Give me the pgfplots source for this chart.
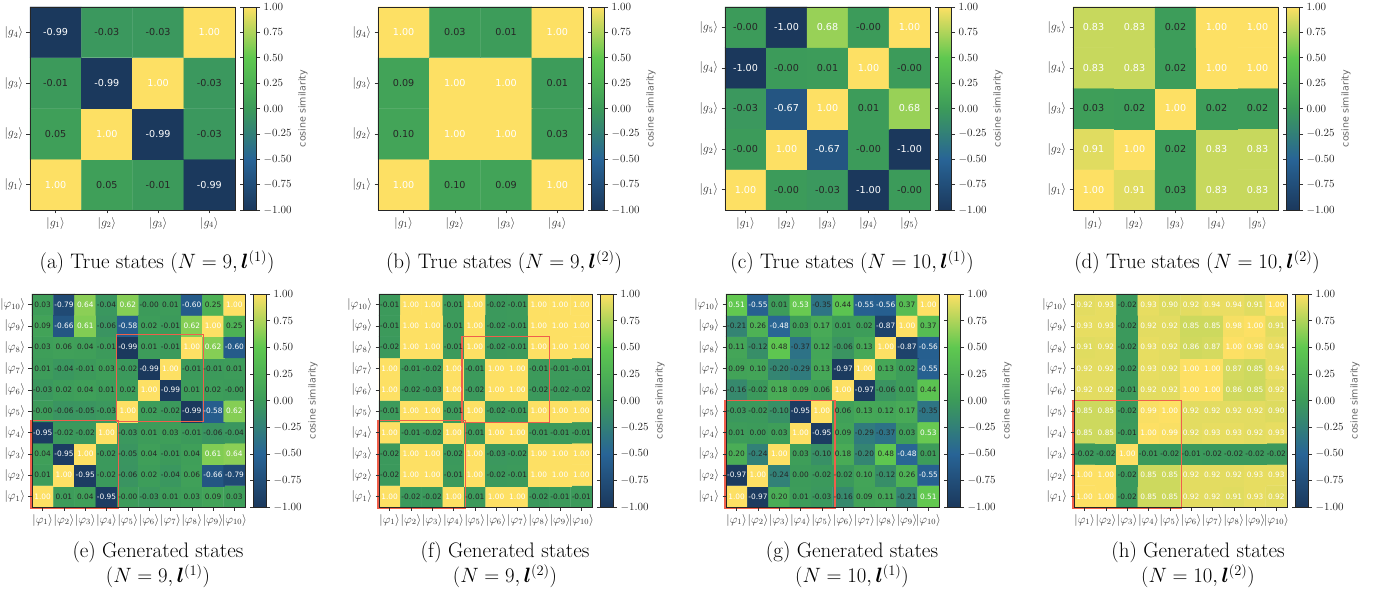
\documentclass[border=0pt]{standalone}
\usepackage{fontspec}
\usepackage{bm}
\usepackage{pgfplots}
\usepackage{pgfplotstable}
\pgfplotsset{compat=1.18}
\newfontfamily\dejavu{DejaVu Sans}
\definecolor{boxred}{RGB}{240,95,75}
\newcommand\topfont{\dejavu\fontsize{9.6}{11}\selectfont}
\newcommand\botfont{\dejavu\fontsize{7.4}{8}\selectfont}
\newcommand\phk[1]{$|\varphi_{#1}\rangle$}
\newcommand\gk[1]{$|g_{#1}\rangle$}
\newcommand\cellcol[1]{\ifdim#1pt>0.49pt\color{white}\else\ifdim#1pt<-0.45pt\color{white}\else\color{black!85}\fi\fi#1}
\tikzset{redbox/.style={draw=boxred, line width=1.2pt}}

\pgfplotsset{
  colormap={cs}{rgb255(0cm)=(27,56,92); rgb255(1cm)=(40,100,150); rgb255(2cm)=(60,155,90); rgb255(3cm)=(95,200,80); rgb255(4cm)=(253,224,100)},
  hm/.style={
    scale only axis, anchor=south west,
    enlargelimits=false, axis on top, clip=false,
    colormap name=cs, point meta min=-1, point meta max=1,
    tick align=outside, xtick pos=left, ytick pos=left,
    major tick length=3.5pt,
    tick style={black!80, line width=0.5pt},
    axis line style={black!85, line width=0.7pt},
    tick label style={text=black!80},
    colorbar,
    colorbar style={
      at={([xshift=12pt]parent axis.north east)}, anchor=north west,
      width=13pt,
      ytick={-1,-0.75,-0.5,-0.25,0,0.25,0.5,0.75,1},
      yticklabel style={font=\fontsize{10.5}{12}\selectfont, text=black!85, /pgf/number format/.cd, fixed, fixed zerofill, precision=2},
      ylabel={cosine similarity},
      ylabel style={font=\dejavu\fontsize{9.5}{11}\selectfont, text=black!60},
      major tick length=3.5pt, tick align=outside,
      tick style={black!80, line width=0.5pt},
      axis line style={black!85, line width=0.7pt},
    },
  },
  toprow/.style={hm, width=205pt, height=203pt, xmin=0.5, xmax=#1+0.5, ymin=0.5, ymax=#1+0.5,
    xtick={1,...,#1}, ytick={1,...,#1}, tick label style={font=\fontsize{12}{13}\selectfont}},
  botrow/.style={hm, width=213pt, height=213pt, xmin=0.5, xmax=10.5, ymin=0.5, ymax=10.5,
    xtick={1,...,10}, ytick={1,...,10}, tick label style={font=\fontsize{12}{13}\selectfont},
    xticklabel style={inner xsep=0pt},
    xticklabels={\phk{1},\phk{2},\phk{3},\phk{4},\phk{5},\phk{6},\phk{7},\phk{8},\phk{9},\phk{10}},
    yticklabels={\phk{1},\phk{2},\phk{3},\phk{4},\phk{5},\phk{6},\phk{7},\phk{8},\phk{9},\phk{10}}},
  toplabs/.style={draw=none, mark=none, point meta=explicit symbolic,
    nodes near coords={\cellcol{\pgfplotspointmeta}},
    every node near coord/.append style={anchor=center, inner sep=0pt, font=\topfont}},
  botlabs/.style={draw=none, mark=none, point meta=explicit symbolic,
    nodes near coords={\cellcol{\pgfplotspointmeta}},
    every node near coord/.append style={anchor=center, inner sep=0pt, font=\botfont}},
}

\pgfplotstableread[row sep=\\]{
x y v\\
1 1 1.00\\ 2 1 0.05\\ 3 1 -0.01\\ 4 1 -0.99\\
1 2 0.05\\ 2 2 1.00\\ 3 2 -0.99\\ 4 2 -0.03\\
1 3 -0.01\\ 2 3 -0.99\\ 3 3 1.00\\ 4 3 -0.03\\
1 4 -0.99\\ 2 4 -0.03\\ 3 4 -0.03\\ 4 4 1.00\\
}\tA

\pgfplotstableread[row sep=\\]{
x y v\\
1 1 1.00\\ 2 1 0.10\\ 3 1 0.09\\ 4 1 1.00\\
1 2 0.10\\ 2 2 1.00\\ 3 2 1.00\\ 4 2 0.03\\
1 3 0.09\\ 2 3 1.00\\ 3 3 1.00\\ 4 3 0.01\\
1 4 1.00\\ 2 4 0.03\\ 3 4 0.01\\ 4 4 1.00\\
}\tB

\pgfplotstableread[row sep=\\]{
x y v\\
1 1 1.00\\ 2 1 -0.00\\ 3 1 -0.03\\ 4 1 -1.00\\ 5 1 -0.00\\
1 2 -0.00\\ 2 2 1.00\\ 3 2 -0.67\\ 4 2 -0.00\\ 5 2 -1.00\\
1 3 -0.03\\ 2 3 -0.67\\ 3 3 1.00\\ 4 3 0.01\\ 5 3 0.68\\
1 4 -1.00\\ 2 4 -0.00\\ 3 4 0.01\\ 4 4 1.00\\ 5 4 -0.00\\
1 5 -0.00\\ 2 5 -1.00\\ 3 5 0.68\\ 4 5 -0.00\\ 5 5 1.00\\
}\tC

\pgfplotstableread[row sep=\\]{
x y v\\
1 1 1.00\\ 2 1 0.91\\ 3 1 0.03\\ 4 1 0.83\\ 5 1 0.83\\
1 2 0.91\\ 2 2 1.00\\ 3 2 0.02\\ 4 2 0.83\\ 5 2 0.83\\
1 3 0.03\\ 2 3 0.02\\ 3 3 1.00\\ 4 3 0.02\\ 5 3 0.02\\
1 4 0.83\\ 2 4 0.83\\ 3 4 0.02\\ 4 4 1.00\\ 5 4 1.00\\
1 5 0.83\\ 2 5 0.83\\ 3 5 0.02\\ 4 5 1.00\\ 5 5 1.00\\
}\tD

\pgfplotstableread[row sep=\\]{
x y v\\
1 1 1.00\\ 2 1 0.01\\ 3 1 0.04\\ 4 1 -0.95\\ 5 1 -0.00\\ 6 1 -0.03\\ 7 1 0.01\\ 8 1 0.03\\ 9 1 0.09\\ 10 1 0.03\\
1 2 0.01\\ 2 2 1.00\\ 3 2 -0.95\\ 4 2 -0.02\\ 5 2 -0.06\\ 6 2 0.02\\ 7 2 -0.04\\ 8 2 0.06\\ 9 2 -0.66\\ 10 2 -0.79\\
1 3 0.04\\ 2 3 -0.95\\ 3 3 1.00\\ 4 3 -0.02\\ 5 3 -0.05\\ 6 3 0.04\\ 7 3 -0.01\\ 8 3 0.04\\ 9 3 0.61\\ 10 3 0.64\\
1 4 -0.95\\ 2 4 -0.02\\ 3 4 -0.02\\ 4 4 1.00\\ 5 4 -0.03\\ 6 4 0.01\\ 7 4 0.03\\ 8 4 -0.01\\ 9 4 -0.06\\ 10 4 -0.04\\
1 5 -0.00\\ 2 5 -0.06\\ 3 5 -0.05\\ 4 5 -0.03\\ 5 5 1.00\\ 6 5 0.02\\ 7 5 -0.02\\ 8 5 -0.99\\ 9 5 -0.58\\ 10 5 0.62\\
1 6 -0.03\\ 2 6 0.02\\ 3 6 0.04\\ 4 6 0.01\\ 5 6 0.02\\ 6 6 1.00\\ 7 6 -0.99\\ 8 6 0.01\\ 9 6 0.02\\ 10 6 -0.00\\
1 7 0.01\\ 2 7 -0.04\\ 3 7 -0.01\\ 4 7 0.03\\ 5 7 -0.02\\ 6 7 -0.99\\ 7 7 1.00\\ 8 7 -0.01\\ 9 7 -0.01\\ 10 7 0.01\\
1 8 0.03\\ 2 8 0.06\\ 3 8 0.04\\ 4 8 -0.01\\ 5 8 -0.99\\ 6 8 0.01\\ 7 8 -0.01\\ 8 8 1.00\\ 9 8 0.62\\ 10 8 -0.60\\
1 9 0.09\\ 2 9 -0.66\\ 3 9 0.61\\ 4 9 -0.06\\ 5 9 -0.58\\ 6 9 0.02\\ 7 9 -0.01\\ 8 9 0.62\\ 9 9 1.00\\ 10 9 0.25\\
1 10 0.03\\ 2 10 -0.79\\ 3 10 0.64\\ 4 10 -0.04\\ 5 10 0.62\\ 6 10 -0.00\\ 7 10 0.01\\ 8 10 -0.60\\ 9 10 0.25\\ 10 10 1.00\\
}\tE

\pgfplotstableread[row sep=\\]{
x y v\\
1 1 1.00\\ 2 1 -0.02\\ 3 1 -0.02\\ 4 1 1.00\\ 5 1 -0.01\\ 6 1 1.00\\ 7 1 1.00\\ 8 1 -0.02\\ 9 1 -0.01\\ 10 1 -0.01\\
1 2 -0.02\\ 2 2 1.00\\ 3 2 1.00\\ 4 2 -0.01\\ 5 2 1.00\\ 6 2 -0.02\\ 7 2 -0.01\\ 8 2 1.00\\ 9 2 1.00\\ 10 2 1.00\\
1 3 -0.02\\ 2 3 1.00\\ 3 3 1.00\\ 4 3 -0.02\\ 5 3 1.00\\ 6 3 -0.03\\ 7 3 -0.02\\ 8 3 1.00\\ 9 3 1.00\\ 10 3 1.00\\
1 4 1.00\\ 2 4 -0.01\\ 3 4 -0.02\\ 4 4 1.00\\ 5 4 -0.01\\ 6 4 1.00\\ 7 4 1.00\\ 8 4 -0.01\\ 9 4 -0.01\\ 10 4 -0.01\\
1 5 -0.01\\ 2 5 1.00\\ 3 5 1.00\\ 4 5 -0.01\\ 5 5 1.00\\ 6 5 -0.02\\ 7 5 -0.01\\ 8 5 1.00\\ 9 5 1.00\\ 10 5 1.00\\
1 6 1.00\\ 2 6 -0.02\\ 3 6 -0.03\\ 4 6 1.00\\ 5 6 -0.02\\ 6 6 1.00\\ 7 6 1.00\\ 8 6 -0.02\\ 9 6 -0.02\\ 10 6 -0.02\\
1 7 1.00\\ 2 7 -0.01\\ 3 7 -0.02\\ 4 7 1.00\\ 5 7 -0.01\\ 6 7 1.00\\ 7 7 1.00\\ 8 7 -0.01\\ 9 7 -0.01\\ 10 7 -0.01\\
1 8 -0.02\\ 2 8 1.00\\ 3 8 1.00\\ 4 8 -0.01\\ 5 8 1.00\\ 6 8 -0.02\\ 7 8 -0.01\\ 8 8 1.00\\ 9 8 1.00\\ 10 8 1.00\\
1 9 -0.01\\ 2 9 1.00\\ 3 9 1.00\\ 4 9 -0.01\\ 5 9 1.00\\ 6 9 -0.02\\ 7 9 -0.01\\ 8 9 1.00\\ 9 9 1.00\\ 10 9 1.00\\
1 10 -0.01\\ 2 10 1.00\\ 3 10 1.00\\ 4 10 -0.01\\ 5 10 1.00\\ 6 10 -0.02\\ 7 10 -0.01\\ 8 10 1.00\\ 9 10 1.00\\ 10 10 1.00\\
}\tF

\pgfplotstableread[row sep=\\]{
x y v\\
1 1 1.00\\ 2 1 -0.97\\ 3 1 0.20\\ 4 1 0.01\\ 5 1 -0.03\\ 6 1 -0.16\\ 7 1 0.09\\ 8 1 0.11\\ 9 1 -0.21\\ 10 1 0.51\\
1 2 -0.97\\ 2 2 1.00\\ 3 2 -0.24\\ 4 2 0.00\\ 5 2 -0.02\\ 6 2 -0.02\\ 7 2 0.10\\ 8 2 -0.12\\ 9 2 0.26\\ 10 2 -0.55\\
1 3 0.20\\ 2 3 -0.24\\ 3 3 1.00\\ 4 3 0.03\\ 5 3 -0.10\\ 6 3 0.18\\ 7 3 -0.20\\ 8 3 0.48\\ 9 3 -0.48\\ 10 3 0.01\\
1 4 0.01\\ 2 4 0.00\\ 3 4 0.03\\ 4 4 1.00\\ 5 4 -0.95\\ 6 4 0.09\\ 7 4 -0.29\\ 8 4 -0.37\\ 9 4 0.03\\ 10 4 0.53\\
1 5 -0.03\\ 2 5 -0.02\\ 3 5 -0.10\\ 4 5 -0.95\\ 5 5 1.00\\ 6 5 0.06\\ 7 5 0.13\\ 8 5 0.12\\ 9 5 0.17\\ 10 5 -0.35\\
1 6 -0.16\\ 2 6 -0.02\\ 3 6 0.18\\ 4 6 0.09\\ 5 6 0.06\\ 6 6 1.00\\ 7 6 -0.97\\ 8 6 -0.06\\ 9 6 0.01\\ 10 6 0.44\\
1 7 0.09\\ 2 7 0.10\\ 3 7 -0.20\\ 4 7 -0.29\\ 5 7 0.13\\ 6 7 -0.97\\ 7 7 1.00\\ 8 7 0.13\\ 9 7 0.02\\ 10 7 -0.55\\
1 8 0.11\\ 2 8 -0.12\\ 3 8 0.48\\ 4 8 -0.37\\ 5 8 0.12\\ 6 8 -0.06\\ 7 8 0.13\\ 8 8 1.00\\ 9 8 -0.87\\ 10 8 -0.56\\
1 9 -0.21\\ 2 9 0.26\\ 3 9 -0.48\\ 4 9 0.03\\ 5 9 0.17\\ 6 9 0.01\\ 7 9 0.02\\ 8 9 -0.87\\ 9 9 1.00\\ 10 9 0.37\\
1 10 0.51\\ 2 10 -0.55\\ 3 10 0.01\\ 4 10 0.53\\ 5 10 -0.35\\ 6 10 0.44\\ 7 10 -0.55\\ 8 10 -0.56\\ 9 10 0.37\\ 10 10 1.00\\
}\tG

\pgfplotstableread[row sep=\\]{
x y v\\
1 1 1.00\\ 2 1 1.00\\ 3 1 -0.02\\ 4 1 0.85\\ 5 1 0.85\\ 6 1 0.92\\ 7 1 0.92\\ 8 1 0.91\\ 9 1 0.93\\ 10 1 0.92\\
1 2 1.00\\ 2 2 1.00\\ 3 2 -0.02\\ 4 2 0.85\\ 5 2 0.85\\ 6 2 0.92\\ 7 2 0.92\\ 8 2 0.92\\ 9 2 0.93\\ 10 2 0.93\\
1 3 -0.02\\ 2 3 -0.02\\ 3 3 1.00\\ 4 3 -0.01\\ 5 3 -0.02\\ 6 3 -0.01\\ 7 3 -0.02\\ 8 3 -0.02\\ 9 3 -0.02\\ 10 3 -0.02\\
1 4 0.85\\ 2 4 0.85\\ 3 4 -0.01\\ 4 4 1.00\\ 5 4 0.99\\ 6 4 0.92\\ 7 4 0.93\\ 8 4 0.93\\ 9 4 0.92\\ 10 4 0.93\\
1 5 0.85\\ 2 5 0.85\\ 3 5 -0.02\\ 4 5 0.99\\ 5 5 1.00\\ 6 5 0.92\\ 7 5 0.92\\ 8 5 0.92\\ 9 5 0.92\\ 10 5 0.90\\
1 6 0.92\\ 2 6 0.92\\ 3 6 -0.01\\ 4 6 0.92\\ 5 6 0.92\\ 6 6 1.00\\ 7 6 1.00\\ 8 6 0.86\\ 9 6 0.85\\ 10 6 0.92\\
1 7 0.92\\ 2 7 0.92\\ 3 7 -0.02\\ 4 7 0.93\\ 5 7 0.92\\ 6 7 1.00\\ 7 7 1.00\\ 8 7 0.87\\ 9 7 0.85\\ 10 7 0.94\\
1 8 0.91\\ 2 8 0.92\\ 3 8 -0.02\\ 4 8 0.93\\ 5 8 0.92\\ 6 8 0.86\\ 7 8 0.87\\ 8 8 1.00\\ 9 8 0.98\\ 10 8 0.94\\
1 9 0.93\\ 2 9 0.93\\ 3 9 -0.02\\ 4 9 0.92\\ 5 9 0.92\\ 6 9 0.85\\ 7 9 0.85\\ 8 9 0.98\\ 9 9 1.00\\ 10 9 0.91\\
1 10 0.92\\ 2 10 0.93\\ 3 10 -0.02\\ 4 10 0.93\\ 5 10 0.90\\ 6 10 0.92\\ 7 10 0.94\\ 8 10 0.94\\ 9 10 0.91\\ 10 10 1.00\\
}\tH

\begin{document}
\begin{tikzpicture}
\path[use as bounding box] (0pt,0pt) rectangle (1396pt,600pt);

% ---------- top row ----------
\begin{axis}[toprow=4, at={(30pt,390pt)},
  xticklabels={\gk1,\gk2,\gk3,\gk4}, yticklabels={\gk1,\gk2,\gk3,\gk4}]
\addplot[matrix plot*, mesh/cols=4, point meta=explicit] table[x=x,y=y,meta=v] {\tA};
\addplot[toplabs] table[x=x,y=y,meta=v] {\tA};
\end{axis}

\begin{axis}[toprow=4, at={(378pt,390pt)},
  xticklabels={\gk1,\gk2,\gk3,\gk4}, yticklabels={\gk1,\gk2,\gk3,\gk4}]
\addplot[matrix plot*, mesh/cols=4, point meta=explicit] table[x=x,y=y,meta=v] {\tB};
\addplot[toplabs] table[x=x,y=y,meta=v] {\tB};
\end{axis}

\begin{axis}[toprow=5, at={(725pt,390pt)},
  xticklabels={\gk1,\gk2,\gk3,\gk4,\gk5}, yticklabels={\gk1,\gk2,\gk3,\gk4,\gk5}]
\addplot[matrix plot*, mesh/cols=5, point meta=explicit] table[x=x,y=y,meta=v] {\tC};
\addplot[toplabs] table[x=x,y=y,meta=v] {\tC};
\end{axis}

\begin{axis}[toprow=5, at={(1073pt,390pt)},
  xticklabels={\gk1,\gk2,\gk3,\gk4,\gk5}, yticklabels={\gk1,\gk2,\gk3,\gk4,\gk5}]
\addplot[matrix plot*, mesh/cols=5, point meta=explicit] table[x=x,y=y,meta=v] {\tD};
\addplot[toplabs] table[x=x,y=y,meta=v] {\tD};
\end{axis}

% ---------- bottom row ----------
\begin{axis}[botrow, at={(32pt,93pt)}]
\addplot[matrix plot*, mesh/cols=10, point meta=explicit] table[x=x,y=y,meta=v] {\tE};
\addplot[botlabs] table[x=x,y=y,meta=v] {\tE};
\draw[redbox] (axis cs:0.45,0.45) rectangle (axis cs:4.55,4.55);
\draw[redbox] (axis cs:4.45,4.5) rectangle (axis cs:8.55,8.6);
\end{axis}

\begin{axis}[botrow, at={(379pt,93pt)}]
\addplot[matrix plot*, mesh/cols=10, point meta=explicit] table[x=x,y=y,meta=v] {\tF};
\addplot[botlabs] table[x=x,y=y,meta=v] {\tF};
\draw[redbox] (axis cs:0.45,0.45) rectangle (axis cs:4.55,4.55);
\draw[redbox] (axis cs:4.4,4.45) rectangle (axis cs:8.5,8.5);
\end{axis}

\begin{axis}[botrow, at={(726pt,93pt)}]
\addplot[matrix plot*, mesh/cols=10, point meta=explicit] table[x=x,y=y,meta=v] {\tG};
\addplot[botlabs] table[x=x,y=y,meta=v] {\tG};
\draw[redbox] (axis cs:0.45,0.45) rectangle (axis cs:5.62,5.5);
\end{axis}

\begin{axis}[botrow, at={(1074pt,93pt)}]
\addplot[matrix plot*, mesh/cols=10, point meta=explicit] table[x=x,y=y,meta=v] {\tH};
\addplot[botlabs] table[x=x,y=y,meta=v] {\tH};
\draw[redbox] (axis cs:0.45,0.45) rectangle (axis cs:5.55,5.5);
\end{axis}

% ---------- captions ----------
\begin{scope}[every node/.style={font=\fontsize{21}{25}\selectfont, align=center}]
\node at (157pt,338pt) {(a) True states $(N=9,\bm{l}^{(1)})$};
\node at (504pt,338pt) {(b) True states $(N=9,\bm{l}^{(2)})$};
\node at (852pt,338pt) {(c) True states $(N=10,\bm{l}^{(1)})$};
\node at (1197pt,338pt) {(d) True states $(N=10,\bm{l}^{(2)})$};
\node at (158pt,35pt) {(e) Generated states\\$(N=9,\bm{l}^{(1)})$};
\node at (505pt,35pt) {(f) Generated states\\$(N=9,\bm{l}^{(2)})$};
\node at (852pt,35pt) {(g) Generated states\\$(N=10,\bm{l}^{(1)})$};
\node at (1198pt,35pt) {(h) Generated states\\$(N=10,\bm{l}^{(2)})$};
\end{scope}
\end{tikzpicture}
\end{document}
